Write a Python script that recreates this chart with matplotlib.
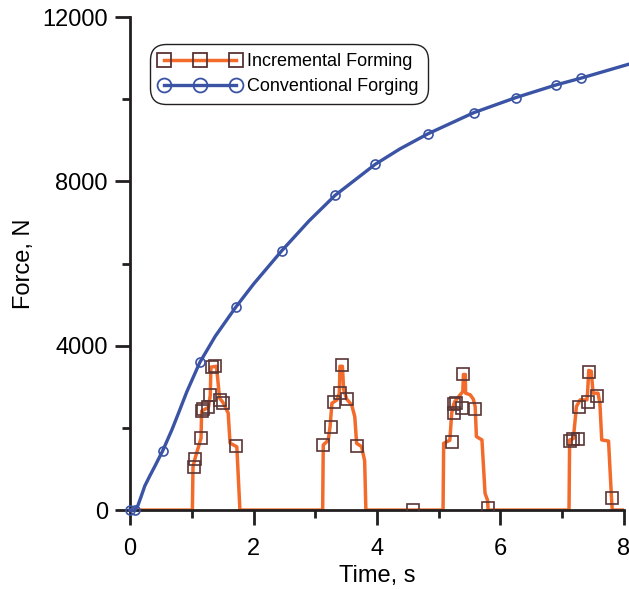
import matplotlib
matplotlib.use("Agg")
import matplotlib.pyplot as plt
from matplotlib.lines import Line2D
from matplotlib.ticker import MultipleLocator

plt.rcParams['font.family'] = ['Liberation Sans', 'DejaVu Sans']

# Incremental forming: force trace (line)
incr_t = [0, 1.01, 1.02, 1.05, 1.15, 1.16, 1.27, 1.30, 1.31, 1.40, 1.41, 1.45, 1.51, 1.59, 1.62, 1.73, 1.78,
          3.12, 3.13, 3.21, 3.24, 3.27, 3.35, 3.39, 3.40, 3.44, 3.46, 3.51, 3.59, 3.64, 3.67, 3.75, 3.80, 3.82,
          5.07, 5.08, 5.18, 5.21, 5.24, 5.26, 5.39, 5.40, 5.43, 5.435, 5.51, 5.56, 5.59, 5.61, 5.70, 5.75, 5.79, 5.80,
          7.11, 7.12, 7.18, 7.23, 7.29, 7.40, 7.41, 7.43, 7.47, 7.50, 7.58, 7.61, 7.64, 7.75, 7.80, 7.81, 8.0]
incr_f = [0, 0, 1050, 1240, 1750, 2410, 2500, 2800, 3480, 3500, 3350, 2730, 2610, 2360, 1630, 1540, 0,
          0, 1585, 1700, 2030, 2600, 2680, 2845, 3500, 3500, 2930, 2700, 2560, 2275, 1625, 1545, 1200, 0,
          0, 1625, 1700, 2360, 2560, 2642, 2885, 3300, 3300, 2845, 2805, 2700, 2520, 1790, 1707, 407, 244, 0,
          0, 1707, 1740, 2520, 2683, 2683, 2845, 3400, 3380, 2845, 2845, 2600, 1707, 1680, 244, 0, 0]

# Incremental forming: marker points
incr_mt = [1.03, 1.05, 1.15, 1.16, 1.19, 1.27, 1.30, 1.32, 1.38, 1.46, 1.51, 1.71,
           3.13, 3.26, 3.30, 3.40, 3.43, 3.51, 3.68,
           4.58,
           5.21, 5.24, 5.25, 5.28, 5.37, 5.40, 5.58, 5.79,
           7.13, 7.18, 7.25, 7.27, 7.41, 7.43, 7.56, 7.81]
incr_mf = [1060, 1240, 1750, 2410, 2450, 2500, 2800, 3480, 3500, 2680, 2600, 1570,
           1585, 2030, 2640, 2850, 3520, 2700, 1570,
           0,
           1650, 2360, 2580, 2600, 2480, 3310, 2460, 50,
           1690, 1720, 1730, 2500, 2630, 3360, 2780, 290]

# Conventional forging curve
conv_t = [0, 0.08, 0.13, 0.18, 0.24, 0.32, 0.40, 0.53, 0.68, 0.78, 0.92, 1.13, 1.38, 1.71, 2.0, 2.46,
          2.9, 3.32, 3.97, 4.37, 4.83, 5.57, 6.25, 6.90, 7.30, 8.08]
conv_f = [0, 0, 120, 330, 590, 830, 1060, 1446, 1960, 2340, 2880, 3593, 4230, 4934, 5500, 6317,
          7040, 7659, 8415, 8790, 9163, 9675, 10041, 10349, 10512, 10854]
conv_marks = [0, 1, 7, 11, 13, 15, 17, 18, 20, 21, 22, 23, 24]

labels = ["Incremental Forming", "Conventional Forging"]
xticks = [0, 2, 4, 6, 8]
yticks = [0, 4000, 8000, 12000]

orange = '#f36b2a'
brown = '#5a3434'
blue = '#3a53a4'
dark = '#231f20'

fig = plt.figure(figsize=(6.29, 5.89), dpi=100)
ax = fig.add_axes([0.2067, 0.134, 0.7853, 0.837])

ax.plot(incr_t, incr_f, color=orange, lw=2.5, solid_joinstyle='round', zorder=2)
ax.plot(incr_mt, incr_mf, ls='none', marker='s', ms=8, mfc='none', mec=brown, mew=1.2, zorder=3)
ax.plot(conv_t, conv_f, color=blue, lw=2.4, marker='o', ms=6.5, mfc='none', mec=blue, mew=1.2,
        markevery=conv_marks, clip_on=False, zorder=4)

ax.set_xlim(0, 8)
ax.set_ylim(0, 12000)
ax.set_xticks(xticks)
ax.set_yticks(yticks)
ax.xaxis.set_minor_locator(MultipleLocator(1))
ax.yaxis.set_minor_locator(MultipleLocator(2000))
for s in ['top', 'right']:
    ax.spines[s].set_visible(False)
for s in ['left', 'bottom']:
    ax.spines[s].set_color(dark)
    ax.spines[s].set_linewidth(2.0)
ax.tick_params(which='major', length=11, width=2.0, color=dark, labelsize=17, direction='out')
ax.tick_params(which='minor', length=5.5, width=2.0, color=dark, direction='out')
ax.tick_params(axis='x', which='major', pad=9)
ax.tick_params(axis='y', which='major', pad=5)
ax.set_xlabel("Time, s", fontsize=17, labelpad=4)
ax.set_ylabel("Force, N", fontsize=17, labelpad=5)

h1 = Line2D([], [], color=orange, lw=2.5, marker='s', ms=10, mfc='none', mec=brown, mew=1.3)
h2 = Line2D([], [], color=blue, lw=2.4, marker='o', ms=10, mfc='none', mec=blue, mew=1.3)
leg = ax.legend([h1, h2], labels, loc='upper left', bbox_to_anchor=(0.04, 0.945), borderaxespad=0,
                numpoints=3, handlelength=4.6, fontsize=13, frameon=True, fancybox=True,
                handletextpad=0.3, borderpad=0.5, labelspacing=0.45)
frame = leg.get_frame()
frame.set_edgecolor(dark)
frame.set_linewidth(1.0)
frame.set_alpha(1)
frame.set_boxstyle('round,pad=0,rounding_size=0.9')

fig.savefig("out.png", dpi=100)
